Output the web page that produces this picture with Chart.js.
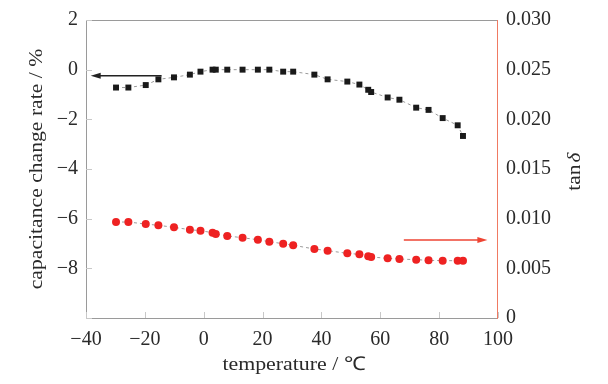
<!DOCTYPE html>
<html>
<head>
<meta charset="utf-8">
<script src="https://cdn.jsdelivr.net/npm/chart.js@4/dist/chart.umd.min.js"></script>
<style>
  html, body { margin: 0; padding: 0; background: #fff; }
  #wrap { width: 608px; height: 384px; }
</style>
</head>
<body>
<div id="wrap"><canvas id="tempChart"></canvas></div>
<script>
// temperature points (°C), shared by both series
var temps = [-29.8, -25.6, -19.7, -15.4, -10.1, -4.7, -1.1, 3.0, 4.1, 8.0, 13.2, 18.4, 22.3, 27.0,
             30.4, 37.6, 42.1, 48.8, 52.9, 55.9, 56.9, 62.5, 66.5, 72.2, 76.4, 81.2, 86.3, 88.1];
// capacitance change rate (%)
var capRate = [-0.72, -0.72, -0.62, -0.39, -0.31, -0.2, -0.08, 0, 0, 0, 0, 0, 0, -0.08,
               -0.08, -0.2, -0.39, -0.48, -0.6, -0.81, -0.9, -1.12, -1.21, -1.53, -1.62, -1.95, -2.24, -2.67];
// tan delta
var tanDelta = [0.00966, 0.00966, 0.00946, 0.00933, 0.00913, 0.00889, 0.00879, 0.00859, 0.00846, 0.00826,
                0.00808, 0.00788, 0.00768, 0.00748, 0.00732, 0.00695, 0.00678, 0.00651, 0.00641, 0.00621,
                0.00614, 0.00601, 0.00594, 0.00587, 0.00581, 0.00577, 0.00577, 0.00577];

var xTicks = [-40, -20, 0, 20, 40, 60, 80, 100];
var yTicks = [2, 0, -2, -4, -6, -8, -10];
var y2Ticks = [0, 0.005, 0.010, 0.015, 0.020, 0.025, 0.030];

var serif = '"Liberation Serif", "Times New Roman", serif';

function pts(ys) {
    return temps.map(function (t, i) { return {x: t, y: ys[i]}; });
}
function minus(v) {
    return String(v).replace('-', '\u2212');
}

// frame, inward ticks, arrows and axis titles
var decor = {
    id: 'decor',
    afterDatasetsDraw: function (chart) {
        var c = chart.ctx, a = chart.chartArea;
        var sx = chart.scales.x, sy = chart.scales.y, sy2 = chart.scales.y2;
        c.save();
        c.lineWidth = 1;
        c.strokeStyle = '#9a9a9a';
        c.beginPath();
        c.moveTo(a.right, a.top + 0.5); c.lineTo(a.left + 0.5, a.top + 0.5);
        c.lineTo(a.left + 0.5, a.bottom + 0.5); c.lineTo(a.right, a.bottom + 0.5);
        c.stroke();
        c.strokeStyle = '#c8c8c8';
        c.beginPath();
        xTicks.forEach(function (v) {
            var px = Math.round(sx.getPixelForValue(v)) + 0.5;
            c.moveTo(px, a.bottom); c.lineTo(px, a.bottom - 6);
        });
        yTicks.forEach(function (v) {
            var py = Math.round(sy.getPixelForValue(v)) + 0.5;
            c.moveTo(a.left, py); c.lineTo(a.left + 6, py);
        });
        c.stroke();
        c.strokeStyle = '#f07a62';
        c.beginPath();
        c.moveTo(a.right - 0.5, a.top); c.lineTo(a.right - 0.5, a.bottom + 1);
        c.stroke();

        function arrow(x1, x2, yv, scale, color) {
            var p1 = sx.getPixelForValue(x1), p2 = sx.getPixelForValue(x2);
            var py = scale.getPixelForValue(yv);
            var dir = p2 > p1 ? 1 : -1;
            c.strokeStyle = color; c.fillStyle = color; c.lineWidth = 1.5;
            c.beginPath(); c.moveTo(p1, py); c.lineTo(p2 - dir * 6, py); c.stroke();
            c.beginPath();
            c.moveTo(p2, py); c.lineTo(p2 - dir * 10, py - 3); c.lineTo(p2 - dir * 10, py + 3);
            c.closePath(); c.fill();
        }
        arrow(-14.3, -38.4, -0.24, sy, '#222');
        arrow(68, 96.4, 0.00785, sy2, '#ee4433');

        // the reference text is a little wider than Liberation Serif
        c.fillStyle = '#2a2a2a';
        c.font = '19px ' + serif;
        c.textAlign = 'center'; c.textBaseline = 'middle';
        c.save();
        c.translate((a.left + a.right) / 2 + 2, 365);
        c.scale(1.15, 1);
        c.fillText('temperature / \u2103', 0, 0);
        c.restore();
        c.save();
        c.translate(37, (a.top + a.bottom) / 2);
        c.rotate(-Math.PI / 2);
        c.scale(1.14, 1);
        c.fillText('capacitance change rate / %', 0, 0);
        c.restore();
        c.save();
        c.translate(575, (a.top + a.bottom) / 2 + 2);
        c.rotate(-Math.PI / 2);
        c.scale(1.12, 1);
        c.fillText('tan', -6, 0);
        c.font = 'italic 19px ' + serif;
        c.fillText('\u03b4', 12, 0);
        c.restore();
        c.restore();
    }
};

var tickFont = {family: serif, size: 20};

var ctx = document.getElementById('tempChart').getContext('2d');
new Chart(ctx, {
    type: 'scatter',
    data: {
        datasets: [{
            label: 'capacitance change rate',
            data: pts(capRate),
            yAxisID: 'y',
            showLine: true,
            borderColor: '#9a9a9a',
            borderWidth: 1,
            borderDash: [3, 3],
            pointStyle: 'rect',
            pointRadius: 4.2,
            pointBackgroundColor: '#1a1a1a',
            pointBorderColor: '#1a1a1a',
            pointBorderWidth: 0
        }, {
            label: 'tan delta',
            data: pts(tanDelta),
            yAxisID: 'y2',
            showLine: true,
            borderColor: '#9a9a9a',
            borderWidth: 1,
            borderDash: [3, 3],
            pointStyle: 'circle',
            pointRadius: 4,
            pointBackgroundColor: '#ee2222',
            pointBorderColor: '#ee2222',
            pointBorderWidth: 0
        }]
    },
    options: {
        responsive: true,
        maintainAspectRatio: false,
        animation: false,
        layout: {padding: {top: 20, left: 0, right: 0, bottom: 0}},
        plugins: {legend: {display: false}, tooltip: {enabled: false}},
        scales: {
            x: {
                type: 'linear', min: -40, max: 100,
                afterFit: function (s) { s.height = 66; },
                afterBuildTicks: function (s) { s.ticks = xTicks.map(function (v) { return {value: v}; }); },
                grid: {display: false},
                border: {display: false},
                ticks: {color: '#2a2a2a', font: tickFont, padding: 2,
                        maxRotation: 0, callback: function (v) { return minus(v); }}
            },
            y: {
                type: 'linear', position: 'left', min: -10, max: 2,
                afterFit: function (s) { s.width = 86; },
                afterBuildTicks: function (s) { s.ticks = yTicks.map(function (v) { return {value: v}; }); },
                grid: {display: false},
                border: {display: false},
                ticks: {color: '#2a2a2a', font: tickFont, padding: 0,
                        callback: function (v) { return v === -10 ? '' : minus(v); }}
            },
            y2: {
                type: 'linear', position: 'right', min: 0, max: 0.03,
                afterFit: function (s) { s.width = 110; },
                afterBuildTicks: function (s) { s.ticks = y2Ticks.map(function (v) { return {value: v}; }); },
                grid: {display: false},
                border: {display: false},
                ticks: {color: '#2a2a2a', font: tickFont, padding: 0,
                        callback: function (v) { return v === 0 ? '0' : v.toFixed(3); }}
            }
        }
    },
    plugins: [decor]
});
</script>
</body>
</html>
